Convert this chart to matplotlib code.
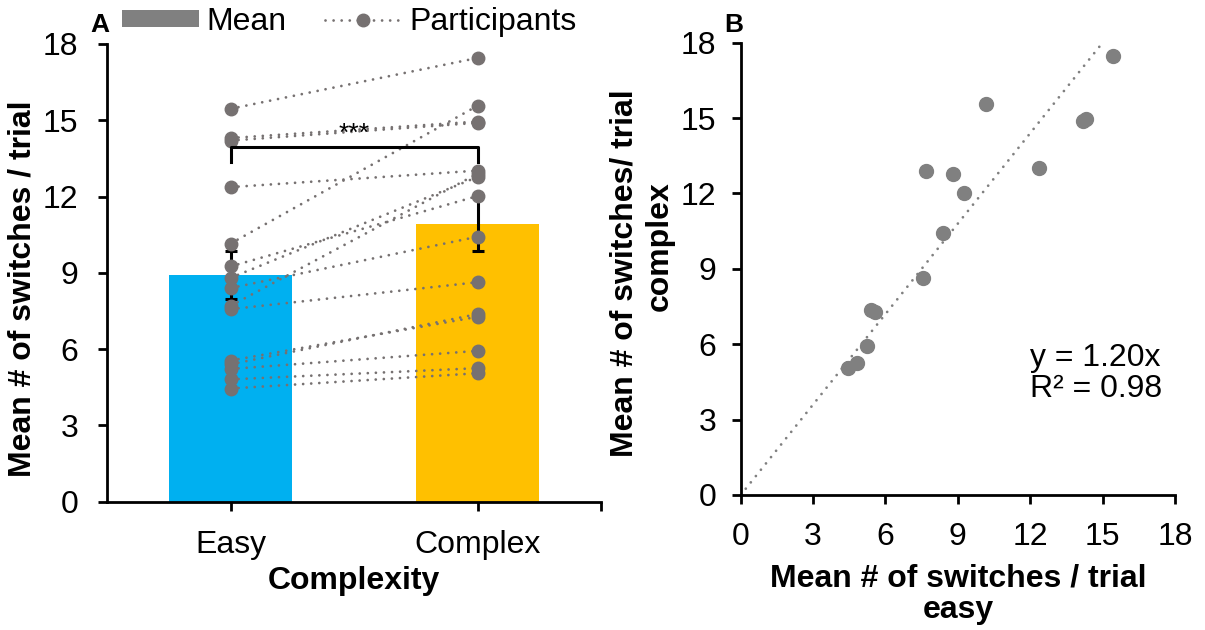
import matplotlib
matplotlib.use('Agg')
import matplotlib.pyplot as plt
from matplotlib.patches import Patch
from matplotlib.lines import Line2D

plt.rcParams['font.family'] = ['Liberation Sans', 'DejaVu Sans']
plt.rcParams['font.size'] = 23

# per-participant mean switches per trial
easy = [15.45, 14.2, 14.3, 12.37, 10.15, 7.7, 8.8, 9.25, 8.4, 7.57, 5.4, 5.55, 5.22, 4.81, 4.45]
complex_ = [17.45, 14.9, 14.95, 13.02, 15.57, 12.9, 12.77, 12.02, 10.42, 8.63, 7.38, 7.27, 5.93, 5.25, 5.05]

conditions = ['Easy', 'Complex']
mean_vals = [8.9, 10.92]
sem_vals = [0.94, 1.07]
bar_colors = ['#00B0F0', '#FFC000']

slope = 1.20
r_squared = 0.98
ticks = [0, 3, 6, 9, 12, 15, 18]

dot_color = '#767171'
dot_style = (0, (0.01, 2.9))
FS = 23

fig = plt.figure(figsize=(12.05, 6.3), dpi=100)
axA = fig.add_axes([0.0888, 0.2037, 0.41, 0.7265])
axB = fig.add_axes([0.6147, 0.2143, 0.3604, 0.718])

for ax in (axA, axB):
    ax.spines['top'].set_visible(False)
    ax.spines['right'].set_visible(False)
    for s in ('left', 'bottom'):
        ax.spines[s].set_linewidth(2.0)
    ax.tick_params(width=2.0, length=6.5, labelsize=FS, direction='out')

# ---- A: bars + paired participants
x = [0, 1]
axA.bar(x, mean_vals, width=0.5, color=bar_colors, zorder=1)
axA.errorbar(x, mean_vals, yerr=sem_vals, fmt='none', ecolor='black',
             elinewidth=2.2, capsize=4.5, capthick=2.2, zorder=2)
for e, c in zip(easy, complex_):
    axA.plot(x, [e, c], linestyle=dot_style, lw=2.0, color=dot_color,
             marker='o', markersize=9, dash_capstyle='round', zorder=3)

# significance bracket
axA.plot([0, 0, 1, 1], [13.37, 13.96, 13.96, 13.37], color='black', lw=2.2, zorder=4)
axA.text(0.5, 14.0, '***', ha='center', va='bottom', fontsize=19, zorder=4)

axA.set_xlim(-0.5, 1.5)
axA.set_ylim(0, 18)
axA.set_yticks(ticks)
axA.set_xticks([0, 1, 1.5])
axA.set_xticklabels(conditions + [''])
axA.tick_params(axis='x', pad=14)
axA.tick_params(axis='y', pad=14)
axA.set_ylabel('Mean # of switches / trial', fontweight='bold', fontsize=FS)
axA.yaxis.set_label_coords(-0.14, 0.465)
axA.set_xlabel('Complexity', fontweight='bold', fontsize=FS, labelpad=4)

handles = [Patch(facecolor='#808080', edgecolor='none'),
           Line2D([], [], linestyle=dot_style, lw=2.0, color=dot_color,
                  marker='o', markersize=9, dash_capstyle='round')]
fig.legend(handles, ['Mean', 'Participants'], loc='center', ncol=2,
           bbox_to_anchor=(0.29, 0.965), frameon=False, fontsize=FS,
           handlelength=2.4, handleheight=0.45, columnspacing=1.2, handletextpad=0.25)

# ---- B: complex vs easy
axB.plot([0, 18 / slope], [0, 18], linestyle=dot_style, lw=2.0, color='#808080',
         dash_capstyle='round', zorder=1)
axB.plot(easy, complex_, 'o', color='#808080', markersize=10, zorder=2)
axB.text(12.0, 4.83, f'y = {slope:.2f}x\nR² = {r_squared:.2f}', ha='left', va='center',
         fontsize=FS, linespacing=1.05)
axB.set_xlim(0, 18)
axB.set_ylim(0, 18)
axB.set_xticks(ticks)
axB.set_yticks(ticks)
axB.tick_params(axis='x', pad=13)
axB.tick_params(axis='y', pad=11)
axB.set_xlabel('Mean # of switches / trial\neasy', fontweight='bold', fontsize=FS,
               linespacing=1.1, labelpad=8)
axB.set_ylabel('Mean # of switches/ trial', fontweight='bold', fontsize=FS)
axB.yaxis.set_label_coords(-0.232, 0.491)
axB.text(-0.186, 0.55, 'complex', transform=axB.transAxes, rotation=90,
         ha='center', va='center', fontweight='bold', fontsize=FS)

fig.text(0.083, 0.96, 'A', fontweight='bold', fontsize=19, ha='center', va='center')
fig.text(0.609, 0.96, 'B', fontweight='bold', fontsize=19, ha='center', va='center')

fig.savefig('out.png', dpi=100)
